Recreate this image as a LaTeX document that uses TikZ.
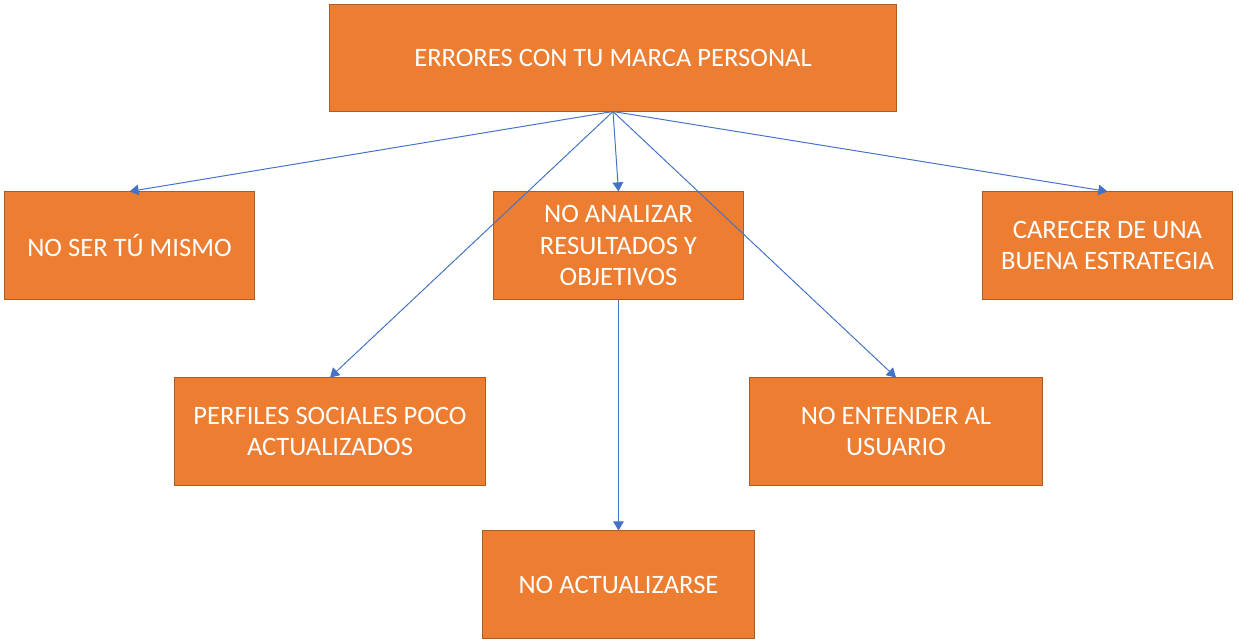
\documentclass[tikz,border=0pt]{standalone}
\usepackage{fontspec}
\setmainfont{Carlito}
\usepackage{xcolor}
\usetikzlibrary{arrows.meta,positioning}
\definecolor{boxorange}{HTML}{ED7D31}
\definecolor{boxedge}{HTML}{AE5A21}
\definecolor{linkblue}{HTML}{4472C4}

\begin{document}
\begin{tikzpicture}
  [
    x=0.025cm,y=-0.025cm,
    error/.style={rectangle,draw=boxedge,fill=boxorange,line width=0.7pt,inner sep=2pt,
      text=white,align=center,minimum height=2.675cm,
      font=\fontsize{18.9}{22.4}\selectfont},
    link/.style={draw=linkblue,line width=0.7pt,-{Triangle[width=7.5pt,length=6.5pt]}}
  ]
  \useasboundingbox (0,0) rectangle (1239,642);
  \node[error,minimum width=14.15cm,minimum height=2.65cm] at (613,58) (marca) {ERRORES CON TU MARCA PERSONAL};
  \node[error,minimum width=6.225cm] at (129.5,245.5) (mismo) {NO SER TÚ MISMO};
  \node[error,minimum width=6.225cm] at (618.5,245.5) (analizar) {NO ANALIZAR\\RESULTADOS Y\\OBJETIVOS};
  \node[error,minimum width=6.225cm] at (1107.5,245.5) (estrategia) {CARECER DE UNA\\BUENA ESTRATEGIA};
  \node[error,minimum width=7.75cm] at (330,431.5) (perfiles) {PERFILES SOCIALES POCO\\ACTUALIZADOS};
  \node[error,minimum width=7.3cm] at (896,431.5) (usuario) {NO ENTENDER AL\\USUARIO};
  \node[error,minimum width=6.775cm] at (618.5,584.5) (actualizarse) {NO ACTUALIZARSE};

  \draw[link] (marca.south) -- (mismo.north);
  \draw[link] (marca.south) -- (analizar.north);
  \draw[link] (marca.south) -- (estrategia.north);
  \draw[link] (marca.south) -- (perfiles.north);
  \draw[link] (marca.south) -- (usuario.north);
  \draw[link] (analizar.south) -- (actualizarse.north);
\end{tikzpicture}
\end{document}
